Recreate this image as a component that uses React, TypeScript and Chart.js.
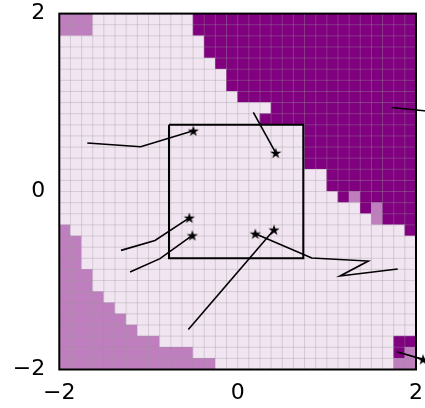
import React, { useEffect, useRef } from "react";
import { Chart, registerables } from "chart.js";

Chart.register(...registerables);

// 32x32 cell classes, top row = y from 2.0 down; 0 light, 1 medium, 2 dark
const gridRows: string[] = [
  "11100000 00002222 22222222 22222222",
  "11100000 00002222 22222222 22222222",
  "00000000 00000222 22222222 22222222",
  "00000000 00000222 22222222 22222222",
  "00000000 00000022 22222222 22222222",
  "00000000 00000002 22222222 22222222",
  "00000000 00000002 22222222 22222222",
  "00000000 00000000 22222222 22222222",
  "00000000 00000000 00022222 22222222",
  "00000000 00000000 00222222 22222222",
  "00000000 00000000 00000022 22222222",
  "00000000 00000000 00000022 22222222",
  "00000000 00000000 00000022 22222222",
  "00000000 00000000 00000022 22222222",
  "00000000 00000000 00000000 22222222",
  "00000000 00000000 00000000 22222222",
  "00000000 00000000 00000000 02122222",
  "00000000 00000000 00000000 00021222",
  "00000000 00000000 00000000 00001222",
  "10000000 00000000 00000000 00000002",
  "11000000 00000000 00000000 00000000",
  "11000000 00000000 00000000 00000000",
  "11000000 00000000 00000000 00000000",
  "11100000 00000000 00000000 00000000",
  "11100000 00000000 00000000 00000000",
  "11110000 00000000 00000000 00000000",
  "11111000 00000000 00000000 00000000",
  "11111100 00000000 00000000 00000000",
  "11111110 00000000 00000000 00000000",
  "11111111 10000000 00000000 00000022",
  "11111111 11110000 00000000 00000021",
  "11111111 11111100 00000000 00000011",
];
const cellColors = ["#f2e5f2", "#bf7fbf", "#800080"];
const gridMin = -2;
const gridMax = 2;

const xTicks = [-2, 0, 2];
const yTicks = [-2, 0, 2];

// trajectories, last point = star
const pathA: number[][] = [[-1.686, 0.546], [-1.087, 0.504], [-0.497, 0.683]];
const pathB: number[][] = [[0.176, 0.889], [0.427, 0.434]];
const pathC: number[][] = [[1.728, 0.945], [2.2, 0.897]];
const pathD: number[][] = [[-1.308, -0.661], [-0.927, -0.549], [-0.542, -0.295]];
const pathE: number[][] = [[-1.207, -0.904], [-0.871, -0.754], [-0.508, -0.493]];
const pathF: number[][] = [[-0.553, -1.55], [0.408, -0.429]];
const pathG: number[][] = [[1.795, -0.871], [1.148, -0.949], [1.465, -0.781], [0.831, -0.747], [0.198, -0.474]];
const pathH: number[][] = [[1.784, -1.8], [2.079, -1.886]];
const paths = [pathA, pathB, pathC, pathD, pathE, pathF, pathG, pathH];

const boxX = [-0.77, 0.736, 0.736, -0.77, -0.77];
const boxY = [0.751, 0.751, -0.751, -0.751, 0.751];

function makeStar(): HTMLCanvasElement {
  const c = document.createElement("canvas");
  c.width = 14;
  c.height = 14;
  const g = c.getContext("2d")!;
  const R = 5.9;
  const r = R * 0.381966;
  g.beginPath();
  for (let i = 0; i < 10; i++) {
    const rad = i % 2 === 0 ? R : r;
    const a = -Math.PI / 2 + (i * Math.PI) / 5;
    const px = 7 + rad * Math.cos(a);
    const py = 7.6 + rad * Math.sin(a);
    if (i === 0) g.moveTo(px, py);
    else g.lineTo(px, py);
  }
  g.closePath();
  g.fillStyle = "#000";
  g.fill();
  return c;
}

const fmt = (v: number) => (v < 0 ? "\u2212" + Math.abs(v) : String(v));

const cellPlugin = {
  id: "cellGrid",
  beforeDatasetsDraw(chart: any) {
    const { ctx, scales, chartArea } = chart;
    const xs = scales.x;
    const ys = scales.y;
    const rows = gridRows.map((s) => s.replace(/ /g, ""));
    const n = rows.length;
    const step = (gridMax - gridMin) / n;
    ctx.save();
    for (let r = 0; r < n; r++) {
      const row = rows[r];
      for (let c = 0; c < row.length; c++) {
        const x0 = xs.getPixelForValue(gridMin + c * step);
        const x1 = xs.getPixelForValue(gridMin + (c + 1) * step);
        const y0 = ys.getPixelForValue(gridMax - r * step);
        const y1 = ys.getPixelForValue(gridMax - (r + 1) * step);
        ctx.fillStyle = cellColors[Number(row[c])];
        ctx.fillRect(x0 - 0.3, y0 - 0.3, x1 - x0 + 0.6, y1 - y0 + 0.6);
      }
    }
    ctx.strokeStyle = "rgba(150,150,150,0.34)";
    ctx.lineWidth = 1;
    ctx.beginPath();
    for (let i = 0; i <= n; i++) {
      const px = xs.getPixelForValue(gridMin + i * step);
      ctx.moveTo(px, chartArea.top);
      ctx.lineTo(px, chartArea.bottom);
      const py = ys.getPixelForValue(gridMax - i * step);
      ctx.moveTo(chartArea.left, py);
      ctx.lineTo(chartArea.right, py);
    }
    ctx.stroke();
    ctx.strokeStyle = "#000";
    ctx.lineWidth = 2;
    ctx.strokeRect(
      chartArea.left,
      chartArea.top,
      chartArea.right - chartArea.left,
      chartArea.bottom - chartArea.top
    );
    ctx.restore();
  },
};

export default function App() {
  const ref = useRef<HTMLCanvasElement | null>(null);
  useEffect(() => {
    if (!ref.current) return;
    const star = makeStar();
    const datasets: any[] = paths.map((p) => ({
      data: p.map(([x, y]) => ({ x, y })),
      showLine: true,
      borderColor: "#000",
      borderWidth: 1.6,
      backgroundColor: "#000",
      pointStyle: star,
      pointRadius: p.map((_, i) => (i === p.length - 1 ? 12 : 0)),
      pointHoverRadius: 0,
      clip: false,
      tension: 0,
    }));
    datasets.push({
      data: boxX.map((x, i) => ({ x, y: boxY[i] })),
      showLine: true,
      borderColor: "#000",
      borderWidth: 2,
      pointRadius: 0,
      clip: false,
      tension: 0,
    });
    const chart = new Chart(ref.current, {
      type: "scatter",
      data: { datasets },
      plugins: [cellPlugin],
      options: {
        animation: false,
        responsive: false,
        events: [],
        layout: { padding: { top: 12.5, right: 24, left: 0, bottom: 0 } },
        plugins: { legend: { display: false }, tooltip: { enabled: false } },
        scales: {
          x: {
            type: "linear",
            min: -2,
            max: 2,
            grid: { display: false, drawTicks: false },
            border: { display: false },
            afterBuildTicks: (s: any) => {
              s.ticks = xTicks.map((v) => ({ value: v }));
            },
            afterFit: (s: any) => {
              s.height = 38.5;
              s.paddingLeft = 0;
              s.paddingRight = 0;
              s.paddingTop = 0;
              s.paddingBottom = 0;
            },
            ticks: {
              color: "#000",
              padding: 11,
              maxRotation: 0,
              font: { family: "DejaVu Sans", size: 22 },
              callback: (v: any) => fmt(Number(v)),
            },
          },
          y: {
            type: "linear",
            min: -2,
            max: 2,
            grid: { display: false, drawTicks: false },
            border: { display: false },
            afterBuildTicks: (s: any) => {
              s.ticks = yTicks.map((v) => ({ value: v }));
            },
            afterFit: (s: any) => {
              s.width = 59.3;
              s.paddingLeft = 0;
              s.paddingRight = 0;
              s.paddingTop = 0;
              s.paddingBottom = 0;
            },
            ticks: {
              color: "#000",
              padding: 14,
              font: { family: "DejaVu Sans", size: 22 },
              callback: (v: any) => fmt(Number(v)),
            },
          },
        },
      },
    });
    return () => chart.destroy();
  }, []);
  return (
    <div
      style={{
        position: "absolute",
        left: 0,
        top: 0,
        width: 425,
        height: 408,
        overflow: "hidden",
        background: "#fff",
      }}
    >
      <canvas ref={ref} width={440} height={408} style={{ display: "block" }} />
    </div>
  );
}
